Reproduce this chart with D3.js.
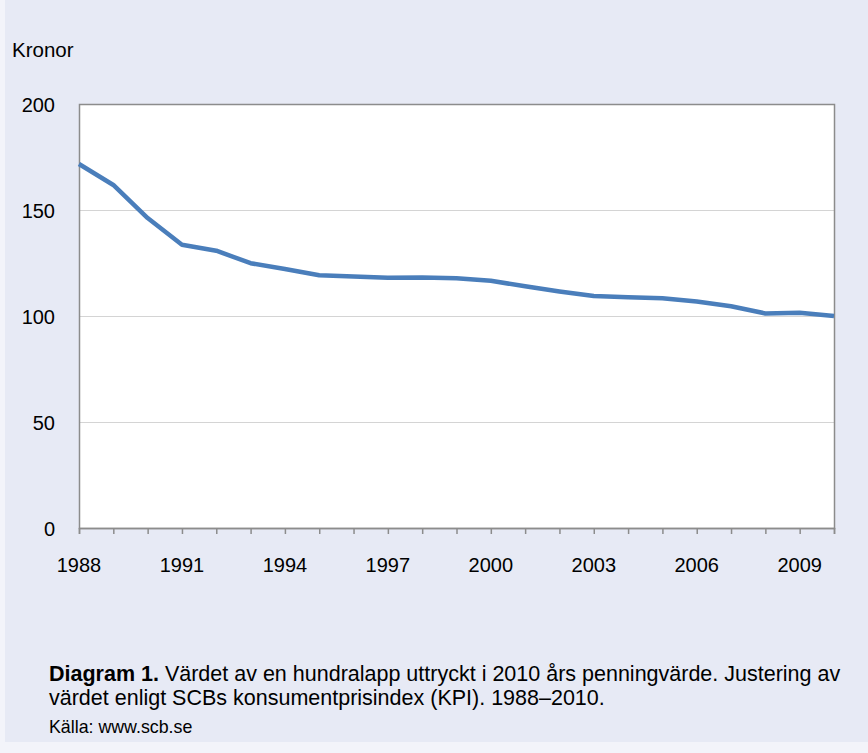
<!DOCTYPE html>
<html>
<head>
<meta charset="utf-8">
<script src="https://cdn.jsdelivr.net/npm/d3@7"></script>
<style>
  body { margin: 0; background: #f3f4fa; }
  text { font-family: "Liberation Sans", Arial, sans-serif; fill: #000; }
</style>
</head>
<body>
<div id="wrapper"></div>
<script>
// data
const years = d3.range(1988, 2011)
const values = [171.7, 161.8, 146.2, 133.6, 130.8, 124.9, 122.2, 119.2, 118.6, 118.1,
                118.2, 117.8, 116.6, 114.0, 111.6, 109.4, 108.9, 108.4, 106.8, 104.6,
                101.2, 101.5, 100.0]
const yTicks = [0, 50, 100, 150, 200]
const xLabels = [1988, 1991, 1994, 1997, 2000, 2003, 2006, 2009]

const dataset = years.map((y, i) => ({ year: y, value: values[i] }))

// dimensions
let dimensions = {
    width: 868,
    height: 753,
    margin: { top: 104, left: 79, right: 34, bottom: 225 },
}
dimensions.boundedWidth = dimensions.width - dimensions.margin.left - dimensions.margin.right
dimensions.boundedHeight = dimensions.height - dimensions.margin.top - dimensions.margin.bottom

const wrapper = d3.select("#wrapper")
    .append("svg")
    .attr("width", dimensions.width)
    .attr("height", dimensions.height)

wrapper.append("rect")
    .attr("width", dimensions.width)
    .attr("height", dimensions.height)
    .attr("fill", "#f3f4fa")

wrapper.append("rect")
    .attr("x", 5)
    .attr("width", dimensions.width - 5)
    .attr("height", 742)
    .attr("fill", "#e7eaf5")

const bounds = wrapper.append("g")
    .attr("transform", `translate(${dimensions.margin.left},${dimensions.margin.top})`)

// scales
const xScale = d3.scaleLinear()
    .domain([1988, 2010])
    .range([0, dimensions.boundedWidth])

const yScale = d3.scaleLinear()
    .domain([0, 200])
    .range([dimensions.boundedHeight, 0])

// plot area
bounds.append("rect")
    .attr("width", dimensions.boundedWidth)
    .attr("height", dimensions.boundedHeight)
    .attr("fill", "#fff")

// gridlines
bounds.selectAll(".grid")
    .data(yTicks.filter(d => d > 0 && d < 200))
    .join("line")
    .attr("x1", 0)
    .attr("x2", dimensions.boundedWidth)
    .attr("y1", d => Math.round(yScale(d)) + 0.5)
    .attr("y2", d => Math.round(yScale(d)) + 0.5)
    .attr("stroke", "#d4d4d4")
    .attr("stroke-width", 1)

// frame
bounds.append("rect")
    .attr("x", 0.5)
    .attr("y", 0.5)
    .attr("width", dimensions.boundedWidth)
    .attr("height", dimensions.boundedHeight)
    .attr("fill", "none")
    .attr("stroke", "#8c8c8c")
    .attr("stroke-width", 1.5)

// x axis
const xAxisGenerator = d3.axisBottom(xScale)
    .tickValues(years)
    .tickSize(6)
    .tickFormat("")

const xAxis = bounds.append("g")
    .attr("transform", `translate(0,${dimensions.boundedHeight})`)
    .call(xAxisGenerator)
xAxis.select(".domain").attr("stroke", "#8c8c8c").attr("stroke-width", 1.5)
xAxis.selectAll(".tick line").attr("stroke", "#8c8c8c").attr("stroke-width", 1.5)

bounds.selectAll(".xlabel")
    .data(xLabels)
    .join("text")
    .attr("x", d => xScale(d))
    .attr("y", dimensions.boundedHeight + 44)
    .attr("text-anchor", "middle")
    .style("font-size", "20px")
    .text(d => d)

// y axis labels
bounds.selectAll(".ylabel")
    .data(yTicks)
    .join("text")
    .attr("x", -24)
    .attr("y", d => yScale(d) + 8)
    .attr("text-anchor", "end")
    .style("font-size", "20px")
    .text(d => d)

wrapper.append("text")
    .attr("x", 12)
    .attr("y", 57)
    .style("font-size", "20.5px")
    .text("Kronor")

// line
const lineGenerator = d3.line()
    .x(d => xScale(d.year))
    .y(d => yScale(d.value))

bounds.append("path")
    .datum(dataset)
    .attr("d", lineGenerator)
    .attr("fill", "none")
    .attr("stroke", "#4a7ebb")
    .attr("stroke-width", 4.5)
    .attr("stroke-linejoin", "round")

// caption
const caption = wrapper.append("text")
    .attr("x", 49)
    .attr("y", 681)
    .style("font-size", "21.5px")
caption.append("tspan").attr("font-weight", "bold").text("Diagram 1.")
caption.append("tspan").text(" Värdet av en hundralapp uttryckt i 2010 års penningvärde. Justering av")

wrapper.append("text")
    .attr("x", 49)
    .attr("y", 705)
    .style("font-size", "21.5px")
    .text("värdet enligt SCBs konsumentprisindex (KPI). 1988–2010.")

wrapper.append("text")
    .attr("x", 49)
    .attr("y", 733)
    .style("font-size", "17.8px")
    .text("Källa: www.scb.se")
</script>
</body>
</html>
